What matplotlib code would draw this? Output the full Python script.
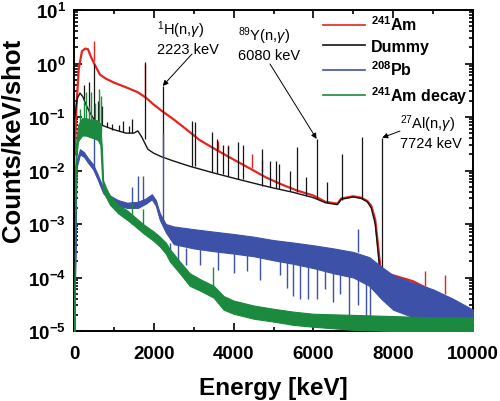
import numpy as np
import matplotlib.pyplot as plt
from matplotlib.lines import Line2D
from matplotlib.ticker import MultipleLocator, LogLocator, FixedLocator, NullFormatter

plt.rcParams['font.family'] = 'Liberation Sans'
plt.rcParams['mathtext.fontset'] = 'custom'
plt.rcParams['mathtext.rm'] = 'Liberation Sans'
plt.rcParams['mathtext.it'] = 'Liberation Sans:italic'
plt.rcParams['mathtext.bf'] = 'Liberation Sans:bold'

# ---- 241Am (red) baseline
am_E = [20, 60, 120, 200, 280, 350, 430, 520, 650, 800, 1000, 1300, 1600, 1800, 2000, 2200,
        2500, 2800, 3150, 3500, 4000, 4400, 4800, 5200, 5600, 6000, 6300, 6600, 6700, 7000,
        7200, 7350, 7450, 7550, 7620, 7680, 7750, 8000, 8500, 9000, 9500, 10000]
am_y = [0.02, 0.15, 0.8, 1.7, 1.9, 1.85, 1.3, 0.95, 0.62, 0.52, 0.44, 0.36, 0.29, 0.23, 0.17, 0.13,
        0.09, 0.06, 0.037, 0.026, 0.016, 0.011, 0.0075, 0.0055, 0.0042, 0.0034, 0.0026, 0.0024, 0.003, 0.0033,
        0.0031, 0.0027, 0.0022, 0.0012, 0.0004, 0.00015, 0.00012, 0.00011, 8.5e-5, 5.5e-5, 3e-5, 1.5e-5]
am_pk_E = [511, 1779, 3600, 3850, 4450, 4700, 8800, 9290]
am_pk_lo = [1.1, 0.24, 0.024, 0.02, 0.011, 0.0095, 7e-5, 5e-5]
am_pk_hi = [2.6, 1.0, 0.036, 0.03, 0.02, 0.016, 1.3e-4, 1.1e-4]

# ---- Dummy (black) baseline
dm_E = [20, 80, 150, 220, 300, 400, 500, 700, 1000, 1300, 1500, 1600, 1700, 1850, 2000, 2200,
        2500, 2900, 3500, 4000, 4500, 5000, 5500, 6000, 6300, 6600, 6700, 7000, 7200, 7350, 7450,
        7550, 7620, 7680, 7750, 8000, 9000, 10000]
dm_y = [0.1, 0.22, 0.28, 0.24, 0.17, 0.12, 0.09, 0.07, 0.058, 0.05, 0.05, 0.055, 0.042, 0.025, 0.021, 0.018,
        0.015, 0.012, 0.009, 0.0072, 0.0058, 0.0047, 0.0039, 0.0031, 0.0025, 0.0023, 0.0029, 0.0032, 0.003, 0.0026, 0.002,
        0.001, 0.0003, 0.0001, 6e-5, 5e-5, 3e-5, 1.5e-5]
dm_pk_E = [260, 385, 511, 600, 690, 820, 960, 1120, 1240, 1380, 1460, 1779, 2223, 2950, 3030, 3450, 3575,
           3740, 3870, 4120, 4240, 4710, 4910, 5060, 5150, 5410, 5580, 5810, 6080, 6330, 6710, 7230, 7724]
dm_pk_lo = [0.22, 0.12, 0.09, 0.08, 0.07, 0.065, 0.058, 0.055, 0.052, 0.05, 0.05, 0.038, 0.018, 0.012, 0.012,
            0.0095, 0.009, 0.0085, 0.008, 0.007, 0.0068, 0.0052, 0.0049, 0.0047, 0.0046, 0.0041, 0.0039, 0.0034,
            0.0031, 0.0025, 0.0028, 0.003, 0.0001]
dm_pk_hi = [0.4, 0.45, 1.0, 0.2, 0.16, 0.08, 0.075, 0.07, 0.085, 0.068, 0.09, 1.05, 0.38, 0.085, 0.08, 0.053,
            0.039, 0.03, 0.029, 0.034, 0.03, 0.025, 0.015, 0.015, 0.013, 0.0099, 0.027, 0.0077, 0.039, 0.006,
            0.02, 0.043, 0.041]

# ---- 208Pb (blue) band
pb_E = [10, 60, 150, 250, 350, 480, 600, 730, 900, 1100, 1330, 1600, 1800, 1950, 2050, 2150, 2300,
        2500, 3000, 3500, 4000, 4500, 5000, 5500, 6000, 6500, 7000, 7400, 7700, 8000, 8500, 9000, 9500, 10000]
pb_hi = [1e-5, 0.015, 0.025, 0.022, 0.017, 0.013, 0.0082, 0.0048, 0.0034, 0.0028, 0.0025, 0.0026, 0.003, 0.0036,
         0.0028, 0.0016, 0.001, 0.0009, 0.0008, 0.00072, 0.00065, 0.00058, 0.0005, 0.00045, 0.0004, 0.00035,
         0.0003, 0.00024, 0.00016, 0.00011, 8e-5, 6e-5, 4e-5, 2.5e-5]
pb_lo = [1e-5, 0.011, 0.02, 0.018, 0.014, 0.0105, 0.0066, 0.0038, 0.0027, 0.0022, 0.002, 0.002, 0.0024, 0.0029,
         0.0022, 0.0012, 0.0007, 0.00042, 0.00035, 0.00031, 0.00028, 0.00025, 0.00021, 0.00018, 0.00015, 0.00012,
         0.0001, 7e-5, 4e-5, 2.5e-5, 1.8e-5, 1.3e-5, 1e-5, 1e-5]
pb_pk_E = [511, 1460, 1600, 1730, 2223, 7120]
pb_pk_lo = [0.011, 0.0022, 0.0023, 0.0024, 0.0012, 0.0003]
pb_pk_hi = [0.07, 0.005, 0.008, 0.008, 0.05, 0.0008]
pb_dip_E = [2400, 2600, 2800, 3160, 3620, 4000, 4330, 4660, 5170, 5330, 5500, 5660, 5870, 6080,
            6290, 6500, 6670, 6880, 7120, 7330, 7420]
pb_dip_lo = [2.5e-4, 2e-4, 1.7e-4, 1.7e-4, 1.4e-4, 1.2e-4, 1.3e-4, 9e-5, 1.1e-4, 6.4e-5, 4.5e-5, 4e-5, 4e-5, 4e-5,
             6e-5, 3.5e-5, 5e-5, 1.8e-5, 3e-5, 1.2e-5, 1.2e-5]
pb_dip_hi = [4.5e-4, 4e-4, 3.6e-4, 3.4e-4, 3.1e-4, 2.8e-4, 2.6e-4, 2.4e-4, 2.1e-4, 2e-4, 1.8e-4, 1.7e-4, 1.6e-4,
             1.5e-4, 1.4e-4, 1.2e-4, 1.1e-4, 1.05e-4, 1e-4, 8e-5, 7e-5]

# ---- 241Am decay (green) band
dc_E = [10, 40, 100, 200, 300, 400, 500, 600, 660, 700, 730, 800, 900, 1100, 1330, 1500, 1730, 2000, 2150,
        2300, 2400, 2650, 2900, 3200, 3500, 3750, 4000, 4500, 5000, 5500, 6000, 7000, 8000, 9000, 10000]
dc_hi = [1e-5, 0.025, 0.07, 0.095, 0.095, 0.09, 0.09, 0.085, 0.07, 0.025, 0.0065, 0.0048, 0.0034, 0.0023, 0.0018,
         0.0014, 0.001, 0.00072, 0.00058, 0.00045, 0.00034, 0.0002, 0.00012, 9e-5, 7e-5, 4.5e-5, 3.7e-5, 3e-5,
         2.6e-5, 2.3e-5, 2.1e-5, 2e-5, 1.9e-5, 1.8e-5, 1.8e-5]
dc_lo = [1e-5, 0.012, 0.035, 0.045, 0.045, 0.042, 0.04, 0.037, 0.03, 0.008, 0.0042, 0.0032, 0.0023, 0.0016,
         0.0012, 0.00095, 0.00068, 0.00048, 0.00038, 0.00028, 0.0002, 0.00012, 7e-5, 5.5e-5, 4.2e-5, 2.5e-5, 2.1e-5,
         1.7e-5, 1.5e-5, 1.3e-5, 1.2e-5, 1.05e-5, 1e-5, 1e-5, 1e-5]
dc_pk_E = [160, 240, 310, 370, 435, 520, 620, 685, 1460, 1740, 3490]
dc_pk_lo = [0.06, 0.07, 0.07, 0.07, 0.07, 0.07, 0.065, 0.05, 0.001, 0.0008, 5.5e-5]
dc_pk_hi = [0.14, 0.2, 0.29, 0.16, 0.29, 0.18, 0.33, 0.25, 0.0025, 0.0019, 0.00016]

red = '#e52421'
black = '#141414'
blue = '#3d51a8'
green = '#1b8a3e'

fig = plt.figure(figsize=(5, 4.02), dpi=100)
ax = fig.add_axes([74/500, 70/402, 399/500, 321/402])

ax.plot(am_E, am_y, color=red, lw=1.6, zorder=2)
ax.vlines(am_pk_E, am_pk_lo, am_pk_hi, color=red, lw=1.0, zorder=2)

ax.plot(dm_E, dm_y, color=black, lw=1.0, zorder=3)
ax.vlines(dm_pk_E, dm_pk_lo, dm_pk_hi, color=black, lw=0.9, zorder=3)

ax.fill_between(pb_E, pb_lo, pb_hi, color=blue, lw=0.8, zorder=4)
ax.vlines(pb_pk_E, pb_pk_lo, pb_pk_hi, color=blue, lw=1.0, zorder=4)
ax.vlines(pb_dip_E, pb_dip_lo, pb_dip_hi, color=blue, lw=1.0, zorder=4)

ax.fill_between(dc_E, dc_lo, dc_hi, color=green, lw=0.8, zorder=5)
ax.vlines(dc_pk_E, dc_pk_lo, dc_pk_hi, color=green, lw=1.0, zorder=5)

ax.set_yscale('log')
ax.set_xlim(0, 10000)
ax.set_ylim(1e-5, 10)

ax.xaxis.set_major_locator(MultipleLocator(2000))
ax.xaxis.set_minor_locator(MultipleLocator(1000))
ydecs = [-5, -4, -3, -2, -1, 0, 1]
ax.yaxis.set_major_locator(FixedLocator([10.0**d for d in ydecs]))
ax.yaxis.set_minor_locator(LogLocator(base=10, subs=np.arange(2, 10), numticks=20))
ax.yaxis.set_minor_formatter(NullFormatter())
ax.set_yticklabels([r'$\mathbf{10^{%d}}$' % d for d in ydecs])
ax.tick_params(which='both', direction='in', top=True, right=True, width=1.2)
ax.tick_params(which='major', length=6, labelsize=13.5)
ax.tick_params(axis='x', which='major', pad=10)
ax.tick_params(axis='y', which='major', pad=6)
ax.tick_params(which='minor', length=3)
for lab in ax.get_xticklabels():
    lab.set_fontweight('bold')
for sp in ax.spines.values():
    sp.set_linewidth(1.4)

ax.set_xlabel('Energy [keV]', fontsize=17.5, fontweight='bold', labelpad=10)
fig.text(13/500, 1 - 140/402, 'Counts/keV/shot', rotation=90, fontsize=18.5, fontweight='bold',
         ha='center', va='center')

handles = [Line2D([], [], color=red, lw=1.2), Line2D([], [], color=black, lw=1.2),
           Line2D([], [], color=blue, lw=1.2), Line2D([], [], color=green, lw=1.2)]
labels = [r'$^{\mathbf{241}}$Am', 'Dummy', r'$^{\mathbf{208}}$Pb', r'$^{\mathbf{241}}$Am decay']
ax.legend(handles, labels, loc='upper right', bbox_to_anchor=(1.015, 1.02), frameon=False,
          handlelength=2.6, handletextpad=0.4, labelspacing=0.35, borderaxespad=0.3,
          prop={'weight': 'bold', 'size': 11.5})

arrow = dict(arrowstyle='-|>', color='black', lw=0.7, mutation_scale=8, shrinkA=0, shrinkB=0)
ann = [(r'$^{1}$H(n,$\gamma$)' + '\n2223 keV', 2223, 0.38, (157, 19), (192, 55)),
       (r'$^{89}$Y(n,$\gamma$)' + '\n6080 keV', 6080, 0.039, (238, 25), (270, 65)),
       (r'$^{27}$Al(n,$\gamma$)' + '\n7724 keV', 7724, 0.041, (400, 113), (400, 132))]
for txt, e, v, (tx, ty), (ax0, ay0) in ann:
    ax.text((tx - 74)/399, 1 - (ty - 11)/321, txt, transform=ax.transAxes, ha='left', va='top',
            fontsize=10.5, linespacing=1.2)
    ax.annotate('', xy=(e, v), xytext=((ax0 - 74)/399, 1 - (ay0 - 11)/321),
                textcoords='axes fraction', arrowprops=arrow)

fig.savefig('out.png', dpi=100)
